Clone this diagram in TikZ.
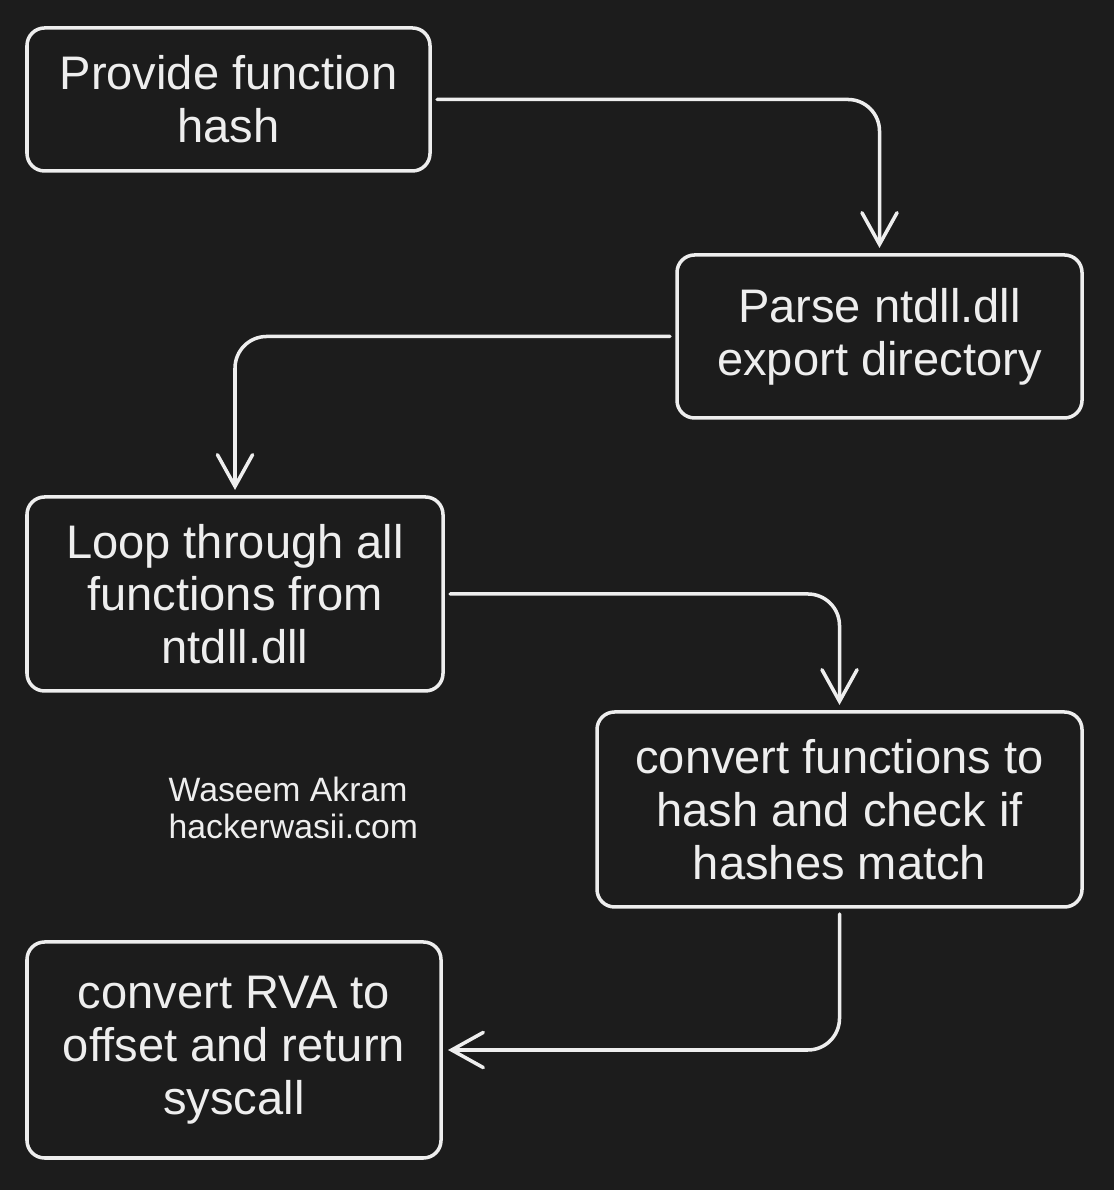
\documentclass[tikz,border=0pt]{standalone}
\usepackage{fontspec}
\setmainfont{Liberation Sans}
\usetikzlibrary{arrows.meta,positioning}
\definecolor{bgc}{HTML}{1C1C1C}
\definecolor{ink}{HTML}{EEEEEE}

\begin{document}
\begin{tikzpicture}[
    blk/.style={draw=ink, line width=1pt, rounded corners=5pt, align=center, text=ink,
      font=\fontsize{13.4pt}{15pt}\selectfont, inner sep=0pt},
    arr/.style={-{Straight Barb[length=9pt,width=10pt,line cap=round]}, draw=ink, line width=1pt,
      rounded corners=9pt, shorten <=1.5pt, shorten >=1.5pt, line cap=round}
]
\fill[bgc] (0,0) rectangle (11.14,11.90);
\useasboundingbox (0,0) rectangle (11.14,11.90);

\node[blk, minimum width=4.03cm, minimum height=1.43cm] (hash) at (2.285,10.905) {Provide function\\hash};
\node[blk, minimum width=4.05cm, minimum height=1.63cm] (parse) at (8.795,8.535) {Parse ntdll.dll\\export directory};
\node[blk, minimum width=4.16cm, minimum height=1.94cm] (loop) at (2.35,5.96) {Loop through all\\functions from\\ntdll.dll};
\node[blk, minimum width=4.85cm, minimum height=1.95cm] (check) at (8.395,3.805) {convert functions to\\hash and check if\\hashes match};
\node[blk, minimum width=4.14cm, minimum height=2.16cm] (ret) at (2.34,1.40) {convert RVA to\\offset and return\\syscall};

\node[anchor=west, align=left, text=ink, font=\fontsize{9.6pt}{10.3pt}\selectfont, inner sep=0pt] (sign) at (1.68,3.82) {Waseem Akram\\hackerwasii.com};

\draw[arr] (hash.east) -| (parse.north);
\draw[arr] (parse.west) -| (loop.north);
\draw[arr] (loop.east) -| (check.north);
\draw[arr] (check.south) |- (ret.east);
\end{tikzpicture}
\end{document}
